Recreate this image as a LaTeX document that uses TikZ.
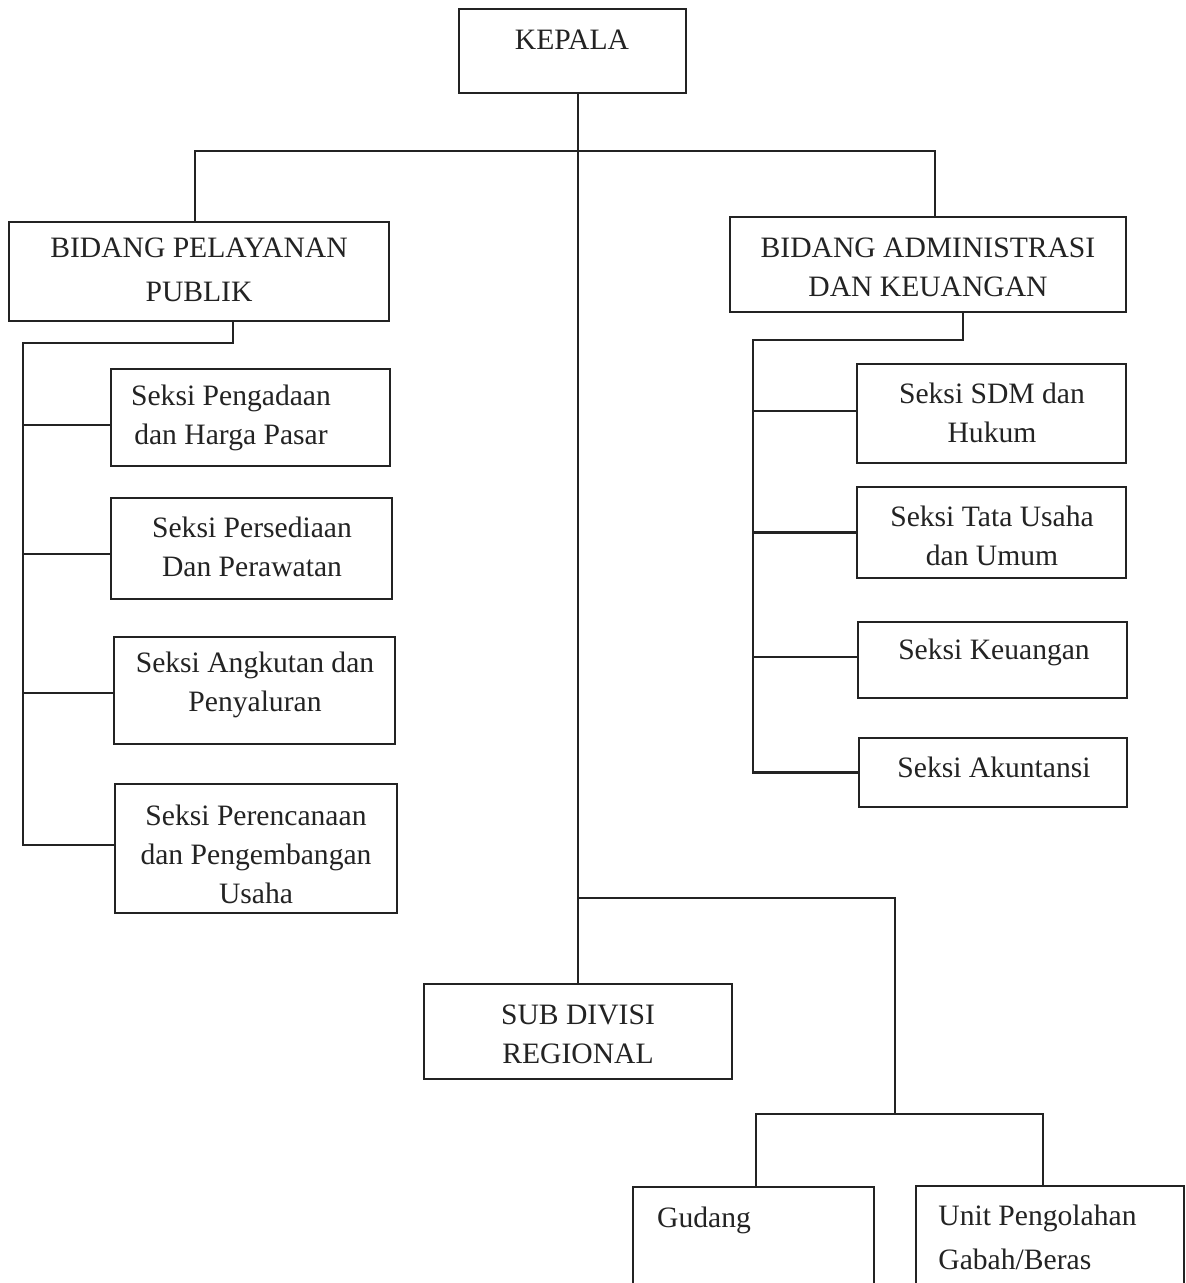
\documentclass[tikz,border=0pt]{standalone}
\usepackage{fontspec}
\setmainfont{Liberation Serif}
\usetikzlibrary{fit}
\definecolor{ink}{RGB}{35,35,35}
\tikzset{
  box/.style={draw=ink, line width=1.1pt, inner sep=0pt, rectangle},
  conn/.style={draw=ink, line width=1.1pt},
  txt/.style={font=\fontsize{14.8}{19.5}\selectfont, align=center, inner sep=0pt, text=ink},
}
\begin{document}
\begin{tikzpicture}[x=0.5pt,y=-0.5pt]
\clip (0,0) rectangle (1185,1283);
\fill[white] (0,0) rectangle (1185,1283);
% boxes
\node[box, fit={(459,9) (686,93)}] (kepala) {};
\node[box, fit={(9,222) (389,321)}] (bpp) {};
\node[box, fit={(111,369) (390,466)}] (s1) {};
\node[box, fit={(111,498) (392,599)}] (s2) {};
\node[box, fit={(114,637) (395,744)}] (s3) {};
\node[box, fit={(115,784) (397,913)}] (s4) {};
\node[box, fit={(730,217) (1126,312)}] (bak) {};
\node[box, fit={(857,364) (1126,463)}] (r1) {};
\node[box, fit={(857,487) (1126,578)}] (r2) {};
\node[box, fit={(858,622) (1127,698)}] (r3) {};
\node[box, fit={(859,738) (1127,807)}] (r4) {};
\node[box, fit={(424,984) (732,1079)}] (sub) {};
\node[box, fit={(633,1187) (874,1320)}] (gud) {};
\node[box, fit={(916,1186) (1184,1320)}] (unit) {};
% texts
\node[txt] (tkepala) at (572,40) {KEPALA};
\node[txt, font=\fontsize{14.8}{22}\selectfont] (tbpp) at (199,270) {BIDANG PELAYANAN\\PUBLIK};
\node[txt] (ts1) at (231,418) {Seksi Pengadaan\\dan Harga Pasar};
\node[txt] (ts2) at (252,547) {Seksi Persediaan\\Dan Perawatan};
\node[txt] (ts3) at (255,685) {Seksi Angkutan dan\\Penyaluran};
\node[txt] (ts4) at (256,854) {Seksi Perencanaan\\dan Pengembangan\\Usaha};
\node[txt] (tbak) at (928,267) {BIDANG ADMINISTRASI\\DAN KEUANGAN};
\node[txt] (tr1) at (992,413) {Seksi SDM dan\\Hukum};
\node[txt] (tr2) at (992,536) {Seksi Tata Usaha\\dan Umum};
\node[txt] (tr3) at (994,652) {Seksi Keuangan};
\node[txt] (tr4) at (994,767) {Seksi Akuntansi};
\node[txt] (tsub) at (578,1034) {SUB DIVISI\\REGIONAL};
\node[txt] (tgud) at (704,1220) {Gudang};
\node[txt, anchor=west, align=left, font=\fontsize{14.8}{22}\selectfont] (tunit) at (938,1237) {Unit Pengolahan\\Gabah/Beras};
% junction coordinates
\coordinate (trunk) at (578,151);
\coordinate (jl) at (195,151);
\coordinate (jr) at (935,151);
\coordinate (lb) at (233,343);
\coordinate (lv) at (23,343);
\coordinate (rb) at (963,340);
\coordinate (rv) at (753,340);
\coordinate (sb) at (578,898);
\coordinate (sr) at (895,898);
\coordinate (gb) at (895,1114);
\coordinate (gl) at (756,1114);
\coordinate (gr) at (1043,1114);
% branch points on the boxes
\coordinate (s1w) at ([yshift=-3.75pt]s1.west);
\coordinate (s2w) at ([yshift=-2.75pt]s2.west);
\coordinate (s3w) at ([yshift=-1.25pt]s3.west);
\coordinate (s4w) at ([yshift=1.75pt]s4.west);
\coordinate (r1w) at ([yshift=1.25pt]r1.west);
\coordinate (r2w) at (r2.west);
\coordinate (r3w) at ([yshift=1.5pt]r3.west);
\coordinate (r4w) at (r4.west);
% connectors
\draw[conn] (kepala.south -| trunk) -- (sub.north -| trunk);
\draw[conn] (bpp.north -| jl) -- (jl) -- (jr) -- (bak.north -| jr);
\draw[conn] (bpp.south -| lb) -- (lb) -- (lv) |- (s4w);
\draw[conn] (s1w) -- (s1w -| lv);
\draw[conn] (s2w) -- (s2w -| lv);
\draw[conn] (s3w) -- (s3w -| lv);
\draw[conn] (bak.south -| rb) -- (rb) -- (rv) |- (r4w);
\draw[conn] (r1w) -- (r1w -| rv);
\draw[conn] (r2w) -- (r2w -| rv);
\draw[conn] (r3w) -- (r3w -| rv);
\draw[conn] (sb) -- (sr) -- (gb);
\draw[conn] (gud.north -| gl) -- (gl) -- (gr) -- (unit.north -| gr);
\end{tikzpicture}
\end{document}
